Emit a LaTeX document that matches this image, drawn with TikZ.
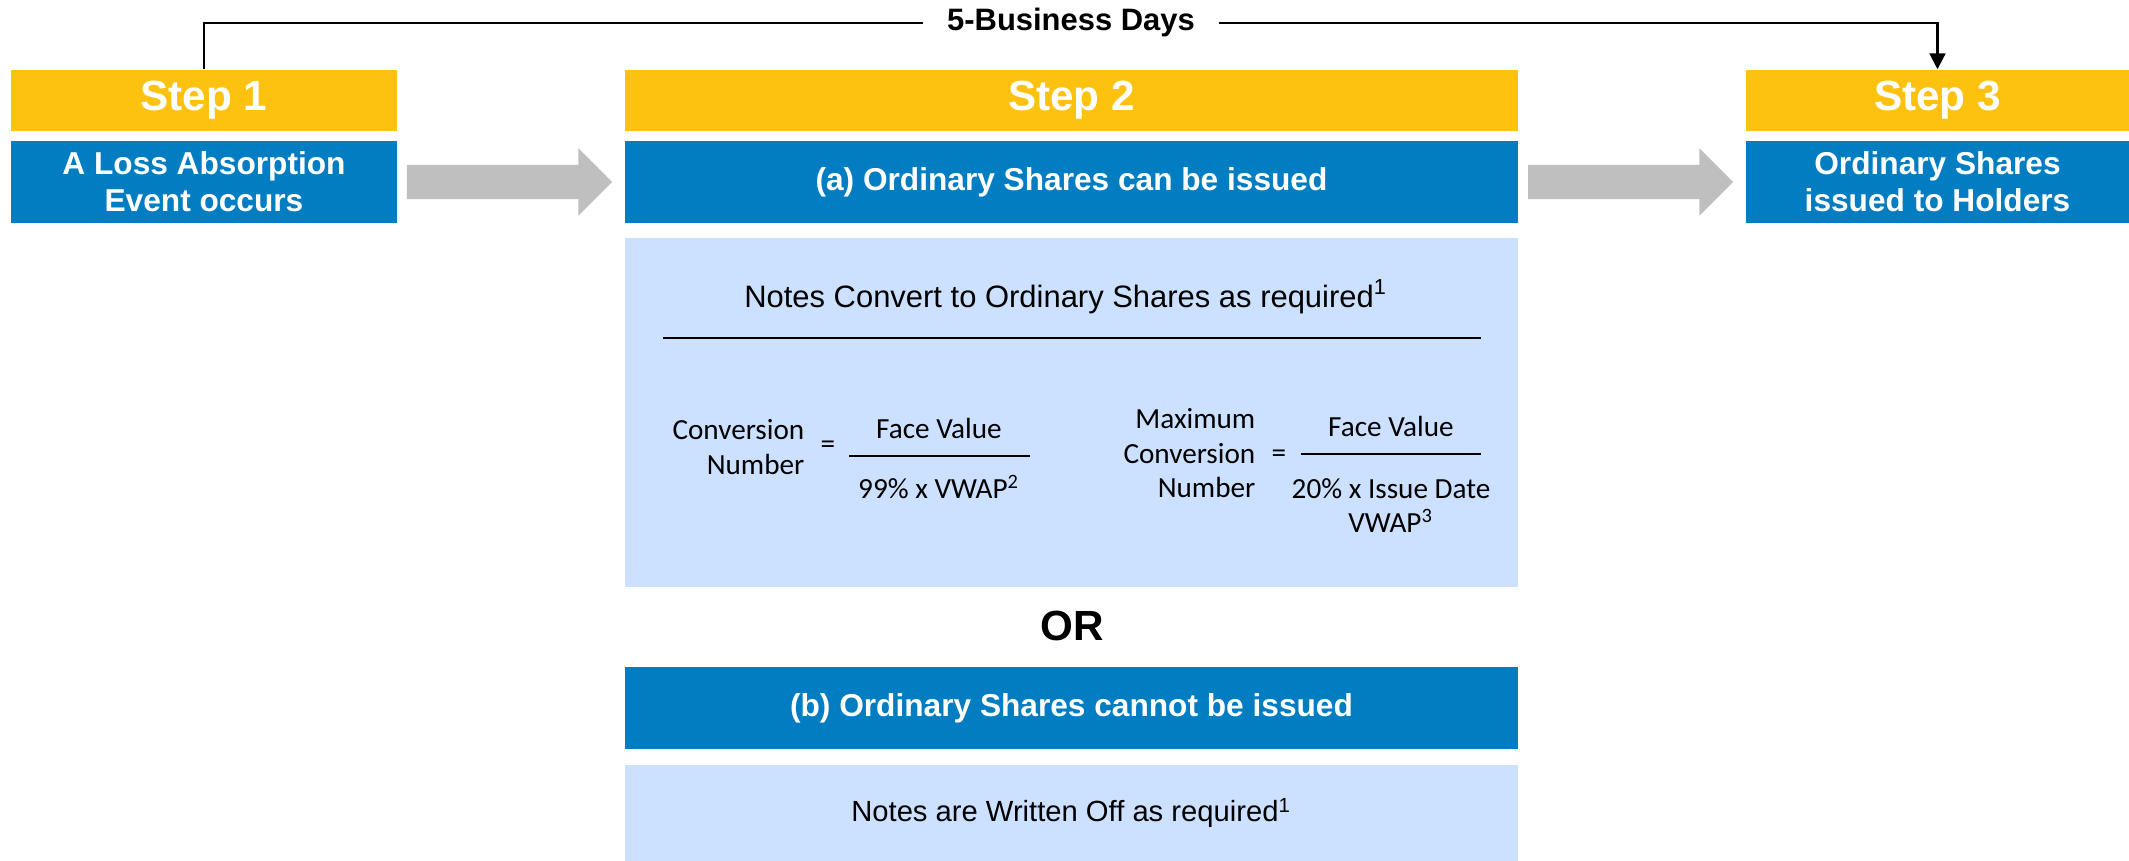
\documentclass[tikz,border=0pt]{standalone}
\usepackage{fontspec}
\setmainfont{Liberation Sans}
\newfontfamily\calibri{Carlito}
\usetikzlibrary{arrows.meta,shapes.arrows,calc}
\definecolor{stepyellow}{RGB}{253,193,16}
\definecolor{stepblue}{RGB}{2,125,193}
\definecolor{noteblue}{RGB}{204,225,255}
\definecolor{arrowgray}{RGB}{191,191,191}

\begin{document}
\begin{tikzpicture}[x=0.01cm, y=-0.01cm, >={Triangle[width=4.5pt,length=4.5pt]},
    steplabel/.style={fill=stepyellow, text=white, font=\fontsize{12}{14}\selectfont\bfseries, minimum height=0.61cm, inner sep=0},
    stepbox/.style={fill=stepblue, text=white, font=\fontsize{9}{10.5}\selectfont\bfseries, align=center, minimum height=0.82cm, inner sep=0},
    notebox/.style={fill=noteblue, inner sep=0},
    bigarrow/.style={single arrow, fill=arrowgray, anchor=tip, minimum height=2.05cm, inner xsep=0, inner ysep=0.165cm, single arrow head extend=0.165cm},
    formula/.style={font=\calibri\fontsize{8.3}{9.8}\selectfont, inner sep=0}]
    % Khung giới hạn
    \useasboundingbox (0,0) rectangle (2129,861);
    % Các bước
    \foreach \i/\x/\w in {1/204/3.86, 2/1071.5/8.93, 3/1937.5/3.83} {
        \node[steplabel, minimum width=\w cm] (s\i) at (\x,100.5) {Step \i};
    }
    \node[stepbox, minimum width=3.86cm] (b1) at (204,182) {A Loss Absorption\\Event occurs};
    \node[stepbox, minimum width=8.93cm] (a2) at (1071.5,182) {(a) Ordinary Shares can be issued};
    \node[stepbox, minimum width=3.83cm] (b3) at (1937.5,182) {Ordinary Shares\\issued to Holders};
    % Mũi tên xám
    \node[bigarrow] (g1) at ($(a2.west)+(-11,0)$) {};
    \node[bigarrow] (g2) at ($(b3.west)+(-11,0)$) {};
    % Đường 5 ngày làm việc
    \node[fill=white, inner xsep=6.8pt, inner ysep=1pt, font=\fontsize{8.8}{10}\selectfont\bfseries] (days) at (1071,23) {5-Business Days};
    \draw[line width=0.6pt] (s1.north) |- (days.west);
    \draw[->, line width=0.6pt] (days.east) -| (s3.north);
    % Hộp chuyển đổi
    \node[notebox, minimum width=8.93cm, minimum height=3.49cm] (conv) at (1071.5,412.5) {};
    \node[font=\fontsize{8.8}{10}\selectfont] (convtitle) at (1066,297) {Notes Convert to Ordinary Shares as required\textsuperscript{1}};
    \draw[line width=0.7pt] (663,338) -- (1481,338);
    % Công thức
    \node[formula, align=right, anchor=east] (cn) at (805,447) {Conversion\\Number};
    \node[formula] (eq1) at (828,447) {=};
    \node[formula] (fv1) at (939,428) {Face Value};
    \node[formula] (dv1) at (939,487) {99\% x VWAP\textsuperscript{2}};
    \draw[line width=0.85pt] (849,456) -- (1030,456);
    \node[formula, align=right, anchor=east] (mcn) at (1256,453.5) {Maximum\\Conversion\\Number};
    \node[formula] (eq2) at (1279,456) {=};
    \node[formula] (fv2) at (1391,426) {Face Value};
    \node[formula, align=center] (dv2) at (1391,505.5) {20\% x Issue Date\\VWAP\textsuperscript{3}};
    \draw[line width=0.85pt] (1301,454) -- (1481,454);
    % Hộp xóa nợ
    \node[font=\fontsize{12}{14}\selectfont\bfseries] (or) at (1072,626) {OR};
    \node[stepbox, minimum width=8.93cm] (b2) at (1071.5,708) {(b) Ordinary Shares cannot be issued};
    \node[notebox, minimum width=8.93cm, minimum height=0.96cm, font=\fontsize{8.3}{10}\selectfont] (off) at (1071.5,813) {Notes are Written Off as required\textsuperscript{1}};
\end{tikzpicture}
\end{document}
